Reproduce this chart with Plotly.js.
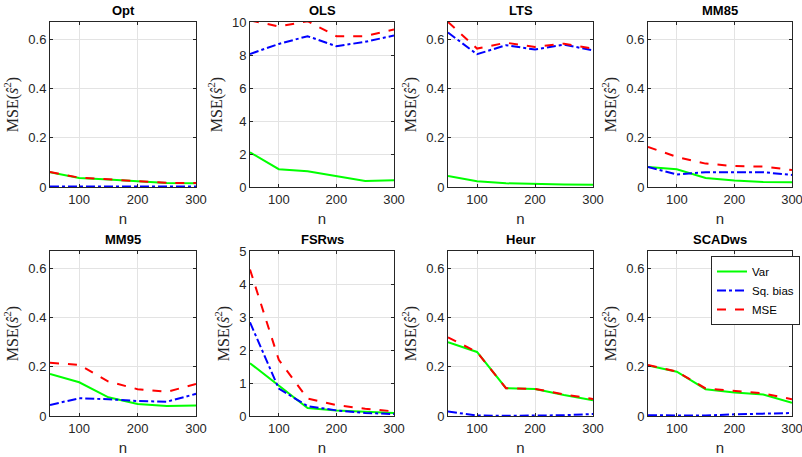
<!DOCTYPE html>
<html>
<head>
<meta charset="utf-8">
<script src="https://cdn.plot.ly/plotly-3.0.1.min.js"></script>
<style>html,body{margin:0;padding:0;background:#fff;}#chart{width:802px;height:457px;}</style>
</head>
<body>
<div id="chart"></div>
<script>
const nVals = [50, 100, 150, 200, 250, 300];
const panelNames = ["Opt", "OLS", "LTS", "MM85", "MM95", "FSRws", "Heur", "SCADws"];
const seriesNames = ["Var", "Sq. bias", "MSE"];

const varOpt    = [0.060, 0.037, 0.030, 0.022, 0.016, 0.015];
const biasOpt   = [0.002, 0.002, 0.002, 0.002, 0.002, 0.002];
const mseOpt    = [0.061, 0.038, 0.031, 0.023, 0.017, 0.016];

const varOLS    = [2.10, 1.08, 0.96, 0.67, 0.37, 0.41];
const biasOLS   = [8.06, 8.67, 9.14, 8.53, 8.80, 9.18];
const mseOLS    = [10.10, 9.73, 10.05, 9.14, 9.14, 9.55];

const varLTS    = [0.045, 0.023, 0.015, 0.011, 0.010, 0.009];
const biasLTS   = [0.627, 0.539, 0.576, 0.558, 0.578, 0.555];
const mseLTS    = [0.670, 0.562, 0.586, 0.569, 0.582, 0.562];

const varMM85   = [0.081, 0.072, 0.037, 0.026, 0.020, 0.019];
const biasMM85  = [0.081, 0.051, 0.060, 0.060, 0.060, 0.049];
const mseMM85   = [0.163, 0.122, 0.095, 0.085, 0.083, 0.069];

const varMM95   = [0.171, 0.137, 0.076, 0.049, 0.041, 0.043];
const biasMM95  = [0.045, 0.072, 0.068, 0.061, 0.058, 0.090];
const mseMM95   = [0.216, 0.208, 0.140, 0.109, 0.098, 0.130];

const varFSR    = [1.60, 0.91, 0.24, 0.17, 0.13, 0.09];
const biasFSR   = [2.84, 0.83, 0.30, 0.17, 0.09, 0.06];
const mseFSR    = [4.44, 1.70, 0.53, 0.33, 0.22, 0.14];

const varHeur   = [0.300, 0.260, 0.113, 0.110, 0.085, 0.064];
const biasHeur  = [0.018, 0.002, 0.001, 0.002, 0.003, 0.008];
const mseHeur   = [0.319, 0.260, 0.113, 0.110, 0.088, 0.069];

const varSCAD   = [0.205, 0.180, 0.109, 0.095, 0.087, 0.054];
const biasSCAD  = [0.003, 0.004, 0.002, 0.007, 0.008, 0.012];
const mseSCAD   = [0.207, 0.180, 0.112, 0.102, 0.092, 0.068];

const yMaxSmall = 0.67;
const yTicksSmall = [0, 0.2, 0.4, 0.6];
const yTicksOLS = [0, 2, 4, 6, 8, 10];
const yTicksFSR = [0, 1, 2, 3, 4, 5];
const xTicks = [100, 200, 300];

const panelData = [
  [varOpt, biasOpt, mseOpt],
  [varOLS, biasOLS, mseOLS],
  [varLTS, biasLTS, mseLTS],
  [varMM85, biasMM85, mseMM85],
  [varMM95, biasMM95, mseMM95],
  [varFSR, biasFSR, mseFSR],
  [varHeur, biasHeur, mseHeur],
  [varSCAD, biasSCAD, mseSCAD]
];
const panelYRange = [[0,yMaxSmall],[0,10],[0,yMaxSmall],[0,yMaxSmall],[0,yMaxSmall],[0,5],[0,yMaxSmall],[0,yMaxSmall]];
const panelYTicks = [yTicksSmall, yTicksOLS, yTicksSmall, yTicksSmall, yTicksSmall, yTicksFSR, yTicksSmall, yTicksSmall];

const W = 802, H = 457;
const colX = [[50,196],[250,394],[448,593],[648,792]];
const rowY = [[22,187],[251,416]];
const styles = [
  {color:'#00ff00', dash:'solid'},
  {color:'#0000ff', dash:'dashdot'},
  {color:'#ff0000', dash:'dash'}
];

const traces = [];
const layout = {
  width: W, height: H,
  margin: {l:0, r:0, t:0, b:0},
  paper_bgcolor: '#fff', plot_bgcolor: '#fff',
  font: {family: 'Liberation Sans, Arial, sans-serif', size: 12, color: '#262626'},
  showlegend: true,
  legend: {
    x: 711/W, y: 1 - 256/H, xanchor: 'left', yanchor: 'top',
    bgcolor: '#fff', bordercolor: '#262626', borderwidth: 1,
    font: {size: 11.5, color: '#000'},
    tracegroupgap: 0, itemwidth: 30
  },
  annotations: []
};

for (let p = 0; p < 8; p++) {
  const r = Math.floor(p / 4), c = p % 4;
  const idx = p + 1;
  const xa = 'x' + (idx === 1 ? '' : idx);
  const ya = 'y' + (idx === 1 ? '' : idx);
  for (let s = 0; s < 3; s++) {
    traces.push({
      x: nVals, y: panelData[p][s], type: 'scatter', mode: 'lines',
      name: seriesNames[s], xaxis: xa, yaxis: ya,
      line: {color: styles[s].color, dash: styles[s].dash, width: 2},
      showlegend: p === 7, cliponaxis: true
    });
  }
  const xKey = 'xaxis' + (idx === 1 ? '' : idx);
  const yKey = 'yaxis' + (idx === 1 ? '' : idx);
  layout[xKey] = {
    domain: [colX[c][0]/W, colX[c][1]/W],
    anchor: ya, range: [50, 300], tickvals: xTicks,
    ticks: 'inside', ticklen: 3, tickcolor: '#262626',
    showline: true, linecolor: '#262626', linewidth: 1, mirror: 'ticks',
    showgrid: true, gridcolor: '#e3e3e3', gridwidth: 1, zeroline: false,
    ticklabeloverflow: 'allow',
    tickfont: {size: 13, color: '#262626'},
    title: {text: 'n', font: {size: 15, color: '#262626'}, standoff: 7}
  };
  layout[yKey] = {
    domain: [1 - rowY[r][1]/H, 1 - rowY[r][0]/H],
    anchor: xa, range: panelYRange[p], tickvals: panelYTicks[p],
    ticks: 'inside', ticklen: 3, tickcolor: '#262626',
    showline: true, linecolor: '#262626', linewidth: 1, mirror: 'ticks',
    showgrid: true, gridcolor: '#e3e3e3', gridwidth: 1, zeroline: false,
    ticklabeloverflow: 'allow',
    tickfont: {size: 13, color: '#262626'},
    title: {text: 'MSE(<i>ŝ</i><sup>2</sup>)', font: {family: 'Liberation Serif, DejaVu Serif, serif', size: 16, color: '#262626'}, standoff: 5}
  };
  layout.annotations.push({
    text: '<b>' + panelNames[p] + '</b>', xref: 'paper', yref: 'paper',
    x: (colX[c][0] + colX[c][1]) / 2 / W, y: 1 - rowY[r][0]/H + 2/H,
    xanchor: 'center', yanchor: 'bottom', showarrow: false,
    font: {size: 13, color: '#000'}
  });
}

Plotly.newPlot('chart', traces, layout, {displayModeBar: false, staticPlot: true});
</script>
</body>
</html>
